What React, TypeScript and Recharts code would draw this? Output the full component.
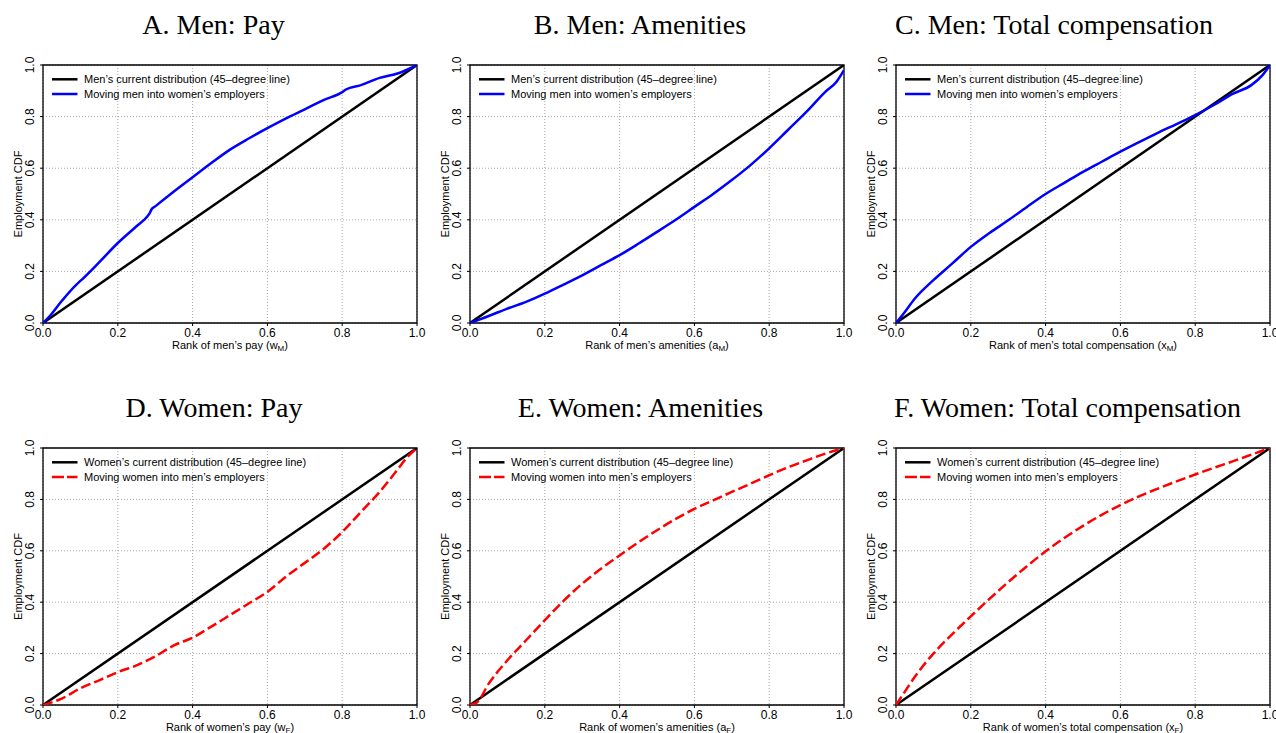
import React from "react";
import {
  LineChart,
  Line,
  XAxis,
  YAxis,
  CartesianGrid,
  ReferenceArea,
  Legend,
} from "recharts";

// shared axis ticks
const ticks = [0, 0.2, 0.4, 0.6, 0.8, 1];
const diagonal = [
  { x: 0, y: 0 },
  { x: 1, y: 1 },
];

// A. Men: Pay
const payMenRank = [0, 0.02, 0.05, 0.09, 0.1, 0.15, 0.2, 0.25, 0.28, 0.285, 0.29, 0.3, 0.35, 0.4, 0.45, 0.5, 0.55, 0.6, 0.65, 0.7, 0.75, 0.8, 0.81, 0.85, 0.9, 0.95, 1];
const payMenCdf = [0, 0.03, 0.085, 0.15, 0.163, 0.235, 0.31, 0.375, 0.415, 0.425, 0.44, 0.452, 0.51, 0.565, 0.62, 0.672, 0.715, 0.755, 0.793, 0.828, 0.864, 0.895, 0.905, 0.922, 0.95, 0.968, 1];

// B. Men: Amenities
const amenMenRank = [0, 0.05, 0.1, 0.15, 0.2, 0.25, 0.3, 0.35, 0.4, 0.45, 0.5, 0.55, 0.6, 0.65, 0.7, 0.75, 0.8, 0.85, 0.9, 0.95, 0.98, 1];
const amenMenCdf = [0, 0.027, 0.056, 0.082, 0.114, 0.149, 0.185, 0.224, 0.263, 0.307, 0.353, 0.4, 0.45, 0.5, 0.554, 0.612, 0.677, 0.748, 0.819, 0.896, 0.935, 0.98];

// C. Men: Total compensation
const totMenRank = [0, 0.02, 0.05, 0.1, 0.15, 0.2, 0.25, 0.3, 0.35, 0.4, 0.45, 0.5, 0.55, 0.6, 0.65, 0.7, 0.75, 0.8, 0.85, 0.9, 0.95, 0.98, 1];
const totMenCdf = [0, 0.036, 0.094, 0.166, 0.23, 0.295, 0.349, 0.398, 0.45, 0.5, 0.543, 0.586, 0.625, 0.664, 0.701, 0.737, 0.771, 0.806, 0.845, 0.888, 0.922, 0.961, 1];

// D. Women: Pay
const payWomenRank = [0, 0.05, 0.1, 0.15, 0.2, 0.25, 0.3, 0.35, 0.4, 0.45, 0.5, 0.55, 0.6, 0.65, 0.7, 0.75, 0.8, 0.85, 0.9, 0.95, 0.97, 1];
const payWomenCdf = [0, 0.025, 0.065, 0.096, 0.128, 0.154, 0.189, 0.232, 0.262, 0.305, 0.35, 0.395, 0.44, 0.5, 0.553, 0.607, 0.673, 0.751, 0.829, 0.92, 0.958, 1];

// E. Women: Amenities
const amenWomenRank = [0, 0.02, 0.05, 0.1, 0.15, 0.2, 0.25, 0.3, 0.35, 0.4, 0.45, 0.5, 0.55, 0.6, 0.65, 0.7, 0.75, 0.8, 0.85, 0.9, 0.95, 1];
const amenWomenCdf = [0, 0.012, 0.083, 0.174, 0.252, 0.33, 0.405, 0.472, 0.53, 0.582, 0.633, 0.68, 0.724, 0.763, 0.796, 0.829, 0.861, 0.894, 0.925, 0.952, 0.978, 1];

// F. Women: Total compensation
const totWomenRank = [0, 0.02, 0.05, 0.1, 0.15, 0.2, 0.25, 0.3, 0.35, 0.4, 0.45, 0.5, 0.55, 0.6, 0.65, 0.7, 0.75, 0.8, 0.85, 0.9, 0.95, 1];
const totWomenCdf = [0, 0.044, 0.109, 0.2, 0.275, 0.345, 0.413, 0.478, 0.54, 0.598, 0.65, 0.697, 0.74, 0.778, 0.812, 0.842, 0.87, 0.897, 0.923, 0.948, 0.974, 1];

const FONT = "'Liberation Sans', Arial, Helvetica, sans-serif";
const SERIF = "'Liberation Serif', 'Times New Roman', serif";

const ML = 42; // left offset of plot inside chart
const MT = 20; // top offset of plot inside chart
const MR = 14;
const PW = 374;

const toPoints = (xs: number[], ys: number[]) => xs.map((x, i) => ({ x, y: ys[i] }));

type Panel = {
  title: string;
  titleX: number;
  titleY: number;
  left: number;
  top: number;
  plotH: number;
  labelText: string;
  sub: string;
  legendA: string;
  legendB: string;
  color: string;
  dashed: boolean;
  points: { x: number; y: number }[];
};

const panels: Panel[] = [
  {
    title: "A. Men: Pay", titleX: 213.5, titleY: 34, left: 42.5, top: 65, plotH: 258,
    labelText: "Rank of men\u2019s pay (w", sub: "M",
    legendA: "Men\u2019s current distribution (45\u2013degree line)",
    legendB: "Moving men into women\u2019s employers",
    color: "#0000ff", dashed: false, points: toPoints(payMenRank, payMenCdf),
  },
  {
    title: "B. Men: Amenities", titleX: 640, titleY: 34, left: 470, top: 65, plotH: 258,
    labelText: "Rank of men\u2019s amenities (a", sub: "M",
    legendA: "Men\u2019s current distribution (45\u2013degree line)",
    legendB: "Moving men into women\u2019s employers",
    color: "#0000ff", dashed: false, points: toPoints(amenMenRank, amenMenCdf),
  },
  {
    title: "C. Men: Total compensation", titleX: 1054, titleY: 34, left: 896, top: 65, plotH: 258,
    labelText: "Rank of men\u2019s total compensation (x", sub: "M",
    legendA: "Men\u2019s current distribution (45\u2013degree line)",
    legendB: "Moving men into women\u2019s employers",
    color: "#0000ff", dashed: false, points: toPoints(totMenRank, totMenCdf),
  },
  {
    title: "D. Women: Pay", titleX: 214, titleY: 417, left: 42.5, top: 448, plotH: 257,
    labelText: "Rank of women\u2019s pay (w", sub: "F",
    legendA: "Women\u2019s current distribution (45\u2013degree line)",
    legendB: "Moving women into men\u2019s employers",
    color: "#ff0000", dashed: true, points: toPoints(payWomenRank, payWomenCdf),
  },
  {
    title: "E. Women: Amenities", titleX: 640.5, titleY: 417, left: 470, top: 448, plotH: 257,
    labelText: "Rank of women\u2019s amenities (a", sub: "F",
    legendA: "Women\u2019s current distribution (45\u2013degree line)",
    legendB: "Moving women into men\u2019s employers",
    color: "#ff0000", dashed: true, points: toPoints(amenWomenRank, amenWomenCdf),
  },
  {
    title: "F. Women: Total compensation", titleX: 1067.5, titleY: 417, left: 896, top: 448, plotH: 257,
    labelText: "Rank of women\u2019s total compensation (x", sub: "F",
    legendA: "Women\u2019s current distribution (45\u2013degree line)",
    legendB: "Moving women into men\u2019s employers",
    color: "#ff0000", dashed: true, points: toPoints(totWomenRank, totWomenCdf),
  },
];

const XTick = (props: any) => {
  const { x, y, payload } = props;
  return (
    <text x={x} y={y + 9.3} textAnchor="middle" fontSize={12} fontFamily={FONT} fill="#000">
      {Number(payload.value).toFixed(1)}
    </text>
  );
};

const YTick = (props: any) => {
  const { x, y, payload } = props;
  const bx = x - 4.4;
  return (
    <text
      x={bx}
      y={y}
      transform={`rotate(-90 ${bx} ${y})`}
      textAnchor="middle"
      fontSize={12}
      fontFamily={FONT}
      fill="#000"
    >
      {Number(payload.value).toFixed(1)}
    </text>
  );
};

function PanelChart({ p }: { p: Panel }) {
  const width = ML + PW + MR;
  const height = MT + p.plotH + 40;
  const axisY = MT + p.plotH;
  const lineProps = { strokeWidth: 2.5, dot: false, isAnimationActive: false };

  return (
    <div style={{ position: "absolute", left: p.left - ML, top: p.top - MT }}>
      <LineChart width={width} height={height} margin={{ top: MT, right: MR, bottom: 10, left: 12 }}>
        <CartesianGrid stroke="#a8a8a8" strokeDasharray="1 2" />
        <XAxis
          type="number"
          dataKey="x"
          domain={[0, 1]}
          ticks={ticks}
          allowDataOverflow
          height={30}
          axisLine={false}
          tickLine={{ stroke: "#000" }}
          tickSize={3}
          tickMargin={2}
          tick={XTick}
          interval={0}
          label={() => (
            <text
              x={ML + PW / 2}
              y={axisY + 25.5}
              textAnchor="middle"
              fontSize={11}
              fontFamily={FONT}
              fill="#000"
            >
              {p.labelText}
              <tspan fontSize={8} dy={2}>{p.sub}</tspan>
              <tspan fontSize={11} dy={-2}>)</tspan>
            </text>
          )}
        />
        <YAxis
          type="number"
          dataKey="y"
          domain={[0, 1]}
          ticks={ticks}
          allowDataOverflow
          width={30}
          axisLine={false}
          tickLine={{ stroke: "#000" }}
          tickSize={3}
          tickMargin={2}
          tick={YTick}
          interval={0}
          label={() => {
            const bx = ML - 21.5;
            const cy = MT + p.plotH / 2;
            return (
              <text
                x={bx}
                y={cy}
                transform={`rotate(-90 ${bx} ${cy})`}
                textAnchor="middle"
                fontSize={11}
                fontFamily={FONT}
                fill="#000"
              >
                Employment CDF
              </text>
            );
          }}
        />
        <Legend
          layout="vertical"
          align="center"
          verticalAlign="middle"
          wrapperStyle={{ left: ML + 9, top: MT + 5.5, width: 300, height: 34 }}
          content={() => (
            <svg width={300} height={34} style={{ display: "block" }}>
              <line x1={0} x2={25.5} y1={8.3} y2={8.3} stroke="#000" strokeWidth={2.5} />
              <text x={32} y={12.3} fontSize={11} fontFamily={FONT} fill="#000">
                {p.legendA}
              </text>
              <line
                x1={0}
                x2={25.5}
                y1={23}
                y2={23}
                stroke={p.color}
                strokeWidth={2.5}
                strokeDasharray={p.dashed ? "12 3" : undefined}
              />
              <text x={32} y={27} fontSize={11} fontFamily={FONT} fill="#000">
                {p.legendB}
              </text>
            </svg>
          )}
        />
        <Line
          data={diagonal}
          dataKey="y"
          type="linear"
          stroke="#000"
          {...lineProps}
        />
        <Line
          data={p.points}
          dataKey="y"
          type="monotone"
          stroke={p.color}
          strokeDasharray={p.dashed ? "10 4" : undefined}
          {...lineProps}
        />
        <ReferenceArea
          x1={0}
          x2={1}
          y1={0}
          y2={1}
          fill="none"
          fillOpacity={0}
          stroke="#000"
          strokeWidth={1.3}
          ifOverflow="visible"
        />
      </LineChart>
    </div>
  );
}

export default function App() {
  return (
    <div
      style={{
        position: "absolute",
        left: 0,
        top: 0,
        width: 1276,
        height: 733,
        background: "#fff",
        overflow: "hidden",
      }}
    >
      <svg width={1276} height={733} style={{ position: "absolute", left: 0, top: 0 }}>
        {panels.map((p) => (
          <text
            key={p.title}
            x={p.titleX}
            y={p.titleY}
            textAnchor="middle"
            fontSize={28}
            fontFamily={SERIF}
            fill="#000"
          >
            {p.title}
          </text>
        ))}
      </svg>
      {panels.map((p) => (
        <PanelChart key={p.title} p={p} />
      ))}
    </div>
  );
}
